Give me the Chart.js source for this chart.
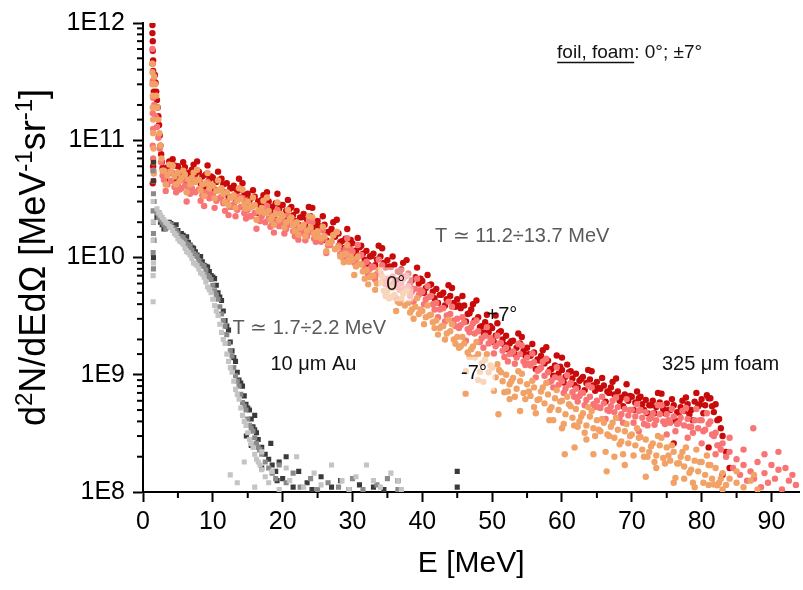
<!DOCTYPE html>
<html>
<head>
<meta charset="utf-8">
<script src="https://cdn.jsdelivr.net/npm/chart.js@4/dist/chart.umd.min.js"></script>
<style>
html,body{margin:0;padding:0;background:#fff;}
canvas{display:block;}
</style>
</head>
<body>
<canvas id="c" width="803" height="590"></canvas>
<script>
// ---- DATA (E [MeV], d2N/dEdΩ [MeV^-1 sr^-1]) ----
const foamPlus7 = [
[1.35,9.6e11],[1.35,8.2e11],[1.4,7.0e11],[1.4,5.8e11],[1.45,4.8e11],[1.45,3.9e11],[1.5,3.2e11],[1.55,2.6e11],[1.4,4.3e10],[1.45,6.0e10],
[1.7,3.6e11],[1.8,3.1e11],[1.9,2.6e11],[2.0,2.2e11],[2.1,1.9e11],[2.2,1.6e11],[2.3,1.35e11],[2.4,1.1e11],[2.5,9.0e10],[2.6,7.6e10],[2.7,6.5e10],[2.8,5.8e10],
[3.0,5.4e10],[3.5,5.9e10],[4.0,5.3e10],[4.5,6.1e10],[5.0,6.0e10],[5.5,5.5e10],[6.0,5.9e10],[6.5,5.3e10],[7.0,5.6e10],[7.5,5.1e10],
[8.0,5.4e10],[8.5,4.9e10],[9.0,5.1e10],[9.5,4.6e10],[10.0,4.8e10],[10.5,4.4e10],[11.0,4.6e10],[11.5,4.2e10],[12.0,4.3e10],[12.5,3.9e10],
[13.0,4.1e10],[13.5,3.7e10],[14.0,3.8e10],[14.5,3.4e10],[15.0,3.5e10],[15.5,3.2e10],[16.0,3.3e10],[16.5,3.0e10],[17.0,3.1e10],[17.5,2.8e10],
[18.0,3.0e10],[18.5,2.7e10],[19.0,2.9e10],[19.5,2.6e10],[20.0,2.8e10],[20.5,2.5e10],[21.0,2.6e10],[21.5,2.3e10],[22.0,2.5e10],[22.5,2.2e10],
[23.0,2.35e10],[23.5,2.1e10],[24.0,2.25e10],[24.5,1.95e10],[25.0,2.05e10],[25.5,1.8e10],[26.0,1.9e10],[26.5,1.65e10],[27.0,1.75e10],[27.5,1.5e10],
[28.0,1.6e10],[28.5,1.38e10],[29.0,1.45e10],[29.5,1.25e10],[30.0,1.32e10],[30.5,1.15e10],[31.0,1.22e10],[31.5,1.08e10],[32.0,1.14e10],[32.5,1.02e10],
[33.0,1.08e10],[33.5,9.6e9],[34.0,1.02e10],[34.5,9.0e9],[35.0,9.5e9],[35.5,8.3e9],[36.0,8.7e9],[36.5,7.6e9],[37.0,7.9e9],[37.5,6.9e9],
[38.0,7.3e9],[38.5,6.4e9],[39.0,6.8e9],[39.5,6.0e9],[40.0,6.3e9],[40.5,5.5e9],[41.0,5.8e9],[41.5,5.1e9],[42.0,5.4e9],[42.5,4.8e9],
[43.0,5.0e9],[43.5,4.4e9],[44.0,4.7e9],[44.5,4.1e9],[45.0,4.4e9],[45.5,3.7e9],[46.0,3.9e9],[46.5,3.3e9],[47.0,3.6e9],[47.5,2.9e9],
[48.0,3.1e9],[48.5,2.6e9],[49.0,2.8e9],[49.5,2.3e9],[50.0,2.5e9],[50.5,2.15e9],[51.0,2.3e9],[51.5,2.0e9],[52.0,2.15e9],[52.5,1.85e9],
[53.0,1.95e9],[53.5,1.7e9],[54.0,1.85e9],[54.5,1.6e9],[55.0,1.7e9],[55.5,1.45e9],[56.0,1.55e9],[56.5,1.35e9],[57.0,1.45e9],[57.5,1.25e9],
[58.0,1.32e9],[58.5,1.12e9],[59.0,1.2e9],[59.5,1.02e9],[60.0,1.1e9],[60.5,9.6e8],[61.0,1.05e9],[61.5,9.3e8],[62.0,1.02e9],[62.5,8.9e8],
[63.0,9.6e8],[63.5,8.5e8],[64.0,9.1e8],[64.5,8.1e8],[65.0,8.7e8],[65.5,7.6e8],[66.0,8.1e8],[66.5,7.2e8],[67.0,7.8e8],[67.5,6.8e8],
[68.0,7.2e8],[68.5,6.4e8],[69.0,6.8e8],[69.5,6.0e8],[70.0,6.5e8],[70.5,5.8e8],[71.0,6.3e8],[71.5,5.6e8],[72.0,6.1e8],[72.5,5.5e8],
[73.0,6.0e8],[73.5,5.3e8],[74.0,5.8e8],[74.5,5.1e8],[75.0,5.7e8],[75.5,5.0e8],[76.0,5.5e8],[76.5,4.8e8],[77.0,5.3e8],[77.5,4.9e8],
[78.0,5.6e8],[78.5,5.0e8],[79.0,5.9e8],[79.5,5.4e8],[80.0,6.2e8],[80.5,5.5e8],[81.0,6.3e8],[81.5,5.4e8],[82.0,5.6e8],[82.5,4.2e8],
[83.0,3.0e8],[83.5,2.2e8],[84.0,1.6e8],[81.0,2.4e8],[76.0,2.6e8],[83.0,1.4e8],[50.5,3.2e9],[60.0,1.4e9],
[3.25,4.5e10],[4.25,6.9e10],[5.25,5.3e10],[6.25,4.2e10],[7.25,6.2e10],[8.25,4.3e10],[9.25,6.1e10],[10.25,3.8e10],[11.25,4.7e10],[12.25,3.3e10],
[13.25,3.2e10],[14.25,4.3e10],[15.25,3.1e10],[16.25,2.4e10],[17.25,3.4e10],[18.25,2.45e10],[19.25,3.5e10],[20.25,2.15e10],[21.25,2.7e10],[22.25,1.9e10],
[23.25,1.85e10],[24.25,2.65e10],[25.25,1.85e10],[26.25,1.4e10],[27.25,2.0e10],[28.25,1.35e10],[29.25,1.75e10],[30.25,1.03e10],[31.25,1.26e10],[32.25,8.7e9],
[33.25,8.6e9],[34.25,1.2e10],[35.25,8.4e9],[36.25,6.4e9],[37.25,9.0e9],[38.25,6.0e9],[39.25,8.2e9],[40.25,5.0e9],[41.25,5.9e9],[42.25,4.1e9],
[43.25,3.9e9],[44.25,5.5e9],[45.25,3.9e9],[46.25,2.85e9],[47.25,4.0e9],[48.25,2.55e9],[49.25,3.25e9],[50.25,1.9e9],[51.25,2.35e9],[52.25,1.65e9],
[53.25,1.5e9],[54.25,2.1e9],[55.25,1.5e9],[56.25,1.12e9],[57.25,1.62e9],[58.25,1.1e9],[59.25,1.46e9],[60.25,8.6e8],[61.25,1.07e9],[62.25,7.8e8],
[63.25,7.4e8],[64.25,1.07e9],[65.25,7.7e8],[66.25,5.9e8],[67.25,8.7e8],[68.25,6.0e8],[69.25,8.3e8],[70.25,5.0e8],[71.25,6.5e8],[72.25,4.7e8],
[73.25,4.7e8],[74.25,6.9e8],[75.25,5.0e8],[76.25,4.05e8],[77.25,6.0e8],[78.25,4.6e8],[79.25,7.0e8],[80.25,4.7e8],[81.25,6.3e8],[82.25,4.1e8],
[3.75,6.6e10],[4.75,4.7e10],[5.75,6.5e10],[6.75,4.9e10],[7.75,6.6e10],[8.75,3.9e10],[9.75,4.9e10],[10.75,5.4e10],[11.75,3.6e10],[12.75,3.9e10],
[13.75,4.7e10],[14.75,2.95e10],[15.75,3.75e10],[16.75,2.8e10],[17.75,3.6e10],[18.75,2.2e10],[19.75,2.8e10],[20.75,3.1e10],[21.75,2.05e10],[22.75,2.2e10],
[23.75,2.7e10],[24.75,1.8e10],[25.75,2.25e10],[26.75,1.63e10],[27.75,2.1e10],[28.75,1.2e10],[29.75,1.41e10],[30.75,1.47e10],[31.75,9.6e9],[32.75,1.03e10],
[33.75,1.26e10],[34.75,8.2e9],[35.75,1.02e10],[36.75,7.5e9],[37.75,9.5e9],[38.75,5.4e9],[39.75,6.6e9],[40.75,7.1e9],[41.75,4.5e9],[42.75,4.8e9],
[43.75,5.8e9],[44.75,3.8e9],[45.75,4.7e9],[46.75,3.35e9],[47.75,4.3e9],[48.75,2.3e9],[49.75,2.6e9],[50.75,2.75e9],[51.75,1.8e9],[52.75,1.93e9],
[53.75,2.25e9],[54.75,1.46e9],[55.75,1.83e9],[56.75,1.32e9],[57.75,1.72e9],[58.75,9.8e8],[59.75,1.17e9],[60.75,1.22e9],[61.75,8.2e8],[62.75,9.2e8],
[63.75,1.1e9],[64.75,7.3e8],[65.75,9.4e8],[66.75,7.0e8],[67.75,9.3e8],[68.75,5.4e8],[69.75,6.6e8],[70.75,7.2e8],[71.75,5.0e8],[72.75,5.5e8],
[73.75,7.0e8],[74.75,4.7e8],[75.75,6.2e8],[76.75,4.75e8],[77.75,6.4e8],[78.75,4.1e8],[79.75,5.6e8],[80.75,6.7e8],[81.75,4.8e8],[82.75,3.5e8]
];
const foamZero = [
[1.35,6.0e11],[1.4,4.5e11],[1.4,3.2e11],[1.45,2.3e11],[1.4,1.7e11],[1.45,1.25e11],[1.4,9.0e10],[1.45,7.0e10],[1.5,5.5e10],[1.5,4.5e10],
[1.6,2.0e11],[1.8,1.6e11],[2.0,1.3e11],[2.2,1.05e11],[2.4,8.5e10],[2.6,6.5e10],[2.8,5.0e10],
[3.0,4.6e10],[3.5,4.2e10],[4.0,4.5e10],[4.5,4.0e10],[5.0,4.3e10],[5.5,3.9e10],[6.0,4.1e10],[6.5,3.7e10],[7.0,3.9e10],[7.5,3.6e10],
[8.0,3.8e10],[8.5,3.4e10],[9.0,3.6e10],[9.5,3.2e10],[10.0,3.4e10],[10.5,3.05e10],[11.0,3.2e10],[11.5,2.9e10],[12.0,3.0e10],[12.5,2.7e10],
[13.0,2.85e10],[13.5,2.55e10],[14.0,2.7e10],[14.5,2.4e10],[15.0,2.55e10],[15.5,2.25e10],[16.0,2.4e10],[16.5,2.1e10],[17.0,2.25e10],[17.5,2.0e10],
[18.0,2.15e10],[18.5,1.9e10],[19.0,2.05e10],[19.5,1.85e10],[20.0,2.0e10],[20.5,1.75e10],[21.0,1.9e10],[21.5,1.68e10],[22.0,1.8e10],[22.5,1.6e10],
[23.0,1.72e10],[23.5,1.52e10],[24.0,1.65e10],[24.5,1.45e10],[25.0,1.55e10],[25.5,1.36e10],[26.0,1.45e10],[26.5,1.27e10],[27.0,1.36e10],[27.5,1.18e10],
[28.0,1.26e10],[28.5,1.1e10],[29.0,1.18e10],[29.5,1.04e10],[30.0,1.12e10],[30.5,9.7e9],[31.0,1.03e10],[31.5,8.8e9],[32.0,9.2e9],[32.5,8.0e9],
[33.0,8.3e9],[33.5,7.2e9],[34.0,7.4e9],[34.5,6.5e9],[35.0,6.6e9],[35.5,5.9e9],[36.0,6.2e9],[36.5,5.6e9],[37.0,6.0e9],[37.5,5.4e9],
[38.0,5.7e9],[38.5,5.1e9],[39.0,5.4e9],[39.5,4.8e9],[40.0,5.1e9],[40.5,4.4e9],[41.0,4.6e9],[41.5,4.0e9],[42.0,4.1e9],[42.5,3.6e9],
[43.0,3.7e9],[43.5,3.2e9],[44.0,3.3e9],[44.5,2.9e9],[45.0,3.0e9],[45.5,2.65e9],[46.0,2.8e9],[46.5,2.45e9],[47.0,2.55e9],[47.5,2.25e9],
[48.0,2.35e9],[48.5,2.05e9],[49.0,2.15e9],[49.5,1.85e9],[50.0,1.95e9],[50.5,1.75e9],[51.0,1.85e9],[51.5,1.6e9],[52.0,1.7e9],[52.5,1.5e9],
[53.0,1.58e9],[53.5,1.4e9],[54.0,1.5e9],[54.5,1.3e9],[55.0,1.4e9],[55.5,1.2e9],[56.0,1.28e9],[56.5,1.08e9],[57.0,1.15e9],[57.5,9.8e8],
[58.0,1.05e9],[58.5,8.9e8],[59.0,9.5e8],[59.5,8.2e8],[60.0,8.8e8],[60.5,7.6e8],[61.0,8.2e8],[61.5,7.1e8],[62.0,7.6e8],[62.5,6.6e8],
[63.0,7.0e8],[63.5,6.1e8],[64.0,6.5e8],[64.5,5.6e8],[65.0,6.0e8],[65.5,5.2e8],[66.0,5.7e8],[66.5,5.0e8],[67.0,5.4e8],[67.5,4.8e8],
[68.0,5.3e8],[68.5,4.6e8],[69.0,5.1e8],[69.5,4.5e8],[70.0,5.0e8],[70.5,4.4e8],[71.0,4.9e8],[71.5,4.3e8],[72.0,4.8e8],[72.5,4.2e8],
[73.0,4.7e8],[73.5,4.1e8],[74.0,4.6e8],[74.5,4.0e8],[75.0,4.6e8],[75.5,3.9e8],[76.0,4.4e8],[76.5,3.8e8],[77.0,4.3e8],[77.5,3.7e8],
[78.0,4.2e8],[78.5,3.6e8],[79.0,4.1e8],[79.5,3.5e8],[80.0,4.1e8],[80.5,3.4e8],[81.0,3.8e8],[81.5,3.1e8],[82.0,3.2e8],[82.5,2.5e8],
[83.0,2.6e8],[83.5,2.0e8],[84.0,2.2e8],[84.5,1.6e8],[85.0,1.9e8],[85.5,1.4e8],[86.0,1.7e8],[86.5,1.25e8],[87.0,1.5e8],[87.4,3.5e8],
[87.5,1.3e8],[88.0,1.8e8],[88.5,1.1e8],[89.0,1.45e8],[89.5,1.2e8],[90.0,1.7e8],[90.5,1.3e8],[91.0,1.55e8],[91.5,1.05e8],[92.0,1.6e8],
[92.5,1.25e8],[93.0,1.4e8],[93.5,1.15e8],[91.0,2.2e8],[89.0,2.1e8],[86.0,2.3e8],[84.0,2.9e8],[82.0,2.1e8],[80.0,2.6e8],[78.0,2.9e8],
[75.0,3.1e8],[71.0,3.3e8],
[3.25,3.7e10],[4.25,5.3e10],[5.25,3.8e10],[6.25,3.0e10],[7.25,4.4e10],[8.25,3.05e10],[9.25,4.4e10],[10.25,2.65e10],[11.25,3.3e10],[12.25,2.3e10],
[13.25,2.25e10],[14.25,3.2e10],[15.25,2.25e10],[16.25,1.76e10],[17.25,2.6e10],[18.25,1.83e10],[19.25,2.55e10],[20.25,1.6e10],[21.25,2.0e10],[22.25,1.42e10],
[23.25,1.4e10],[24.25,2.0e10],[25.25,1.4e10],[26.25,1.09e10],[27.25,1.55e10],[28.25,1.07e10],[29.25,1.46e10],[30.25,9.0e9],[31.25,1.05e10],[32.25,7.1e9],
[33.25,6.5e9],[34.25,8.6e9],[35.25,5.7e9],[36.25,4.5e9],[37.25,6.6e9],[38.25,4.7e9],[39.25,6.6e9],[40.25,4.0e9],[41.25,4.7e9],[42.25,3.1e9],
[43.25,2.85e9],[44.25,3.8e9],[45.25,2.5e9],[46.25,1.95e9],[47.25,2.75e9],[48.25,1.9e9],[49.25,2.55e9],[50.25,1.52e9],[51.25,1.87e9],[52.25,1.3e9],
[53.25,1.24e9],[54.25,1.78e9],[55.25,1.24e9],[56.25,9.5e8],[57.25,1.29e9],[58.25,8.7e8],[59.25,1.16e9],[60.25,7.0e8],[61.25,8.5e8],[62.25,5.9e8],
[63.25,5.5e8],[64.25,7.8e8],[65.25,5.3e8],[66.25,4.2e8],[67.25,6.0e8],[68.25,4.3e8],[69.25,6.2e8],[70.25,3.9e8],[71.25,5.0e8],[72.25,3.7e8],
[73.25,3.75e8],[74.25,5.5e8],[75.25,4.1e8],[76.25,3.3e8],[77.25,4.9e8],[78.25,3.6e8],[79.25,5.1e8],[80.25,3.3e8],[81.25,4.0e8],[82.25,2.5e8],
[3.75,5.4e10],[4.75,3.6e10],[5.75,4.6e10],[6.75,3.5e10],[7.75,4.6e10],[8.75,2.75e10],[9.75,3.5e10],[10.75,3.75e10],[11.75,2.5e10],[12.75,2.7e10],
[13.75,3.3e10],[14.75,2.15e10],[15.75,2.75e10],[16.75,2.05e10],[17.75,2.75e10],[18.75,1.63e10],[19.75,2.05e10],[20.75,2.3e10],[21.75,1.52e10],[22.75,1.67e10],
[23.75,2.05e10],[24.75,1.36e10],[25.75,1.7e10],[26.75,1.28e10],[27.75,1.65e10],[28.75,9.6e9],[29.75,1.17e10],[30.75,1.28e10],[31.75,8.0e9],[32.75,8.4e9],
[33.75,9.6e9],[34.75,5.9e9],[35.75,6.9e9],[36.75,5.3e9],[37.75,7.0e9],[38.75,4.2e9],[39.75,5.25e9],[40.75,5.7e9],[41.75,3.6e9],[42.75,3.7e9],
[43.75,4.2e9],[44.75,2.6e9],[45.75,3.1e9],[46.75,2.3e9],[47.75,2.9e9],[48.75,1.7e9],[49.75,2.05e9],[50.75,2.15e9],[51.75,1.42e9],[52.75,1.53e9],
[53.75,1.83e9],[54.75,1.21e9],[55.75,1.52e9],[56.75,1.11e9],[57.75,1.37e9],[58.75,7.8e8],[59.75,9.3e8],[60.75,9.9e8],[61.75,6.5e8],[62.75,7.0e8],
[63.75,8.1e8],[64.75,5.3e8],[65.75,6.5e8],[66.75,4.9e8],[67.75,6.4e8],[68.75,3.9e8],[69.75,5.0e8],[70.75,5.6e8],[71.75,3.8e8],[72.75,4.3e8],
[73.75,5.5e8],[74.75,3.8e8],[75.75,5.1e8],[76.75,3.9e8],[77.75,5.2e8],[78.75,3.2e8],[79.75,4.1e8],[80.75,4.7e8],[81.75,3.0e8],[82.75,2.3e8]
];
const foamMinus7 = [
[1.3,4.5e11],[1.35,3.8e11],[1.35,3.0e11],[1.4,2.4e11],[1.4,1.9e11],[1.45,1.5e11],[1.45,1.15e11],[1.5,8.5e10],[1.5,6.5e10],[1.55,5.2e10],
[1.6,3.5e11],[1.75,3.0e11],[1.9,2.4e11],[2.05,1.9e11],[2.2,1.5e11],[2.35,1.15e11],[2.5,9.0e10],[2.65,7.0e10],[2.8,5.5e10],
[3.0,5.5e10],[3.5,5.0e10],[4.0,5.4e10],[4.5,4.9e10],[5.0,5.3e10],[5.5,4.8e10],[6.0,5.1e10],[6.5,4.6e10],[7.0,4.8e10],[7.5,4.4e10],
[8.0,4.6e10],[8.5,4.2e10],[9.0,4.3e10],[9.5,3.9e10],[10.0,4.1e10],[10.5,3.7e10],[11.0,3.8e10],[11.5,3.5e10],[12.0,3.6e10],[12.5,3.25e10],
[13.0,3.4e10],[13.5,3.05e10],[14.0,3.15e10],[14.5,2.85e10],[15.0,3.0e10],[15.5,2.7e10],[16.0,2.8e10],[16.5,2.5e10],[17.0,2.65e10],[17.5,2.4e10],
[18.0,2.5e10],[18.5,2.25e10],[19.0,2.35e10],[19.5,2.1e10],[20.0,2.25e10],[20.5,2.0e10],[21.0,2.1e10],[21.5,1.9e10],[22.0,2.0e10],[22.5,1.8e10],
[23.0,1.9e10],[23.5,1.7e10],[24.0,1.8e10],[24.5,1.6e10],[25.0,1.68e10],[25.5,1.45e10],[26.0,1.52e10],[26.5,1.32e10],[27.0,1.38e10],[27.5,1.18e10],
[28.0,1.22e10],[28.5,1.05e10],[29.0,1.08e10],[29.5,9.2e9],[30.0,9.5e9],[30.5,8.4e9],[31.0,8.8e9],[31.5,7.6e9],[32.0,7.8e9],[32.5,6.8e9],
[33.0,7.0e9],[33.5,6.0e9],[34.0,6.1e9],[34.5,5.2e9],[35.0,5.2e9],[35.5,4.6e9],[36.0,4.8e9],[36.5,4.2e9],[37.0,4.4e9],[37.5,3.9e9],
[38.0,4.1e9],[38.5,3.6e9],[39.0,3.8e9],[39.5,3.3e9],[40.0,3.5e9],[40.5,3.1e9],[41.0,3.2e9],[41.5,2.8e9],[42.0,2.9e9],[42.5,2.5e9],
[43.0,2.6e9],[43.5,2.25e9],[44.0,2.35e9],[44.5,2.0e9],[45.0,2.1e9],[45.5,1.75e9],[46.0,1.85e9],[46.5,1.55e9],[47.0,1.65e9],[47.5,1.4e9],
[48.0,1.5e9],[48.5,1.25e9],[49.0,1.35e9],[49.5,1.05e9],[50.0,1.15e9],[50.5,9.5e8],[51.0,1.1e9],[51.5,8.8e8],[52.0,1.0e9],[52.5,8.3e8],
[53.0,9.4e8],[53.5,7.6e8],[54.0,8.8e8],[54.5,7.0e8],[55.0,8.3e8],[55.5,6.6e8],[56.0,7.8e8],[56.5,6.1e8],[57.0,7.2e8],[57.5,5.7e8],
[58.0,6.8e8],[58.5,5.3e8],[59.0,6.3e8],[59.5,5.0e8],[60.0,6.0e8],[60.5,4.6e8],[61.0,5.6e8],[61.5,4.3e8],[62.0,5.1e8],[62.5,4.0e8],
[63.0,4.7e8],[63.5,3.7e8],[64.0,4.4e8],[64.5,3.5e8],[65.0,4.1e8],[65.5,3.3e8],[66.0,3.9e8],[66.5,3.1e8],[67.0,3.6e8],[67.5,2.9e8],
[68.0,3.4e8],[68.5,2.7e8],[69.0,3.3e8],[69.5,2.6e8],[70.0,3.1e8],[70.5,2.5e8],[71.0,2.9e8],[71.5,2.3e8],[72.0,2.8e8],[72.5,2.2e8],
[73.0,2.6e8],[73.5,2.05e8],[74.0,2.5e8],[74.5,1.95e8],[75.0,2.4e8],[75.5,1.85e8],[76.0,2.2e8],[76.5,1.75e8],[77.0,2.0e8],[77.5,1.65e8],
[78.0,1.95e8],[78.5,1.55e8],[79.0,1.85e8],[79.5,1.5e8],[80.0,1.8e8],[80.5,1.4e8],[81.0,1.7e8],[81.5,1.3e8],[82.0,1.6e8],[82.5,1.2e8],
[83.0,1.45e8],[83.5,1.15e8],[84.0,1.3e8],[85.0,1.2e8],[86.0,1.1e8],[87.0,1.25e8],[88.0,1.05e8],
[46.2,6.9e8],[48.0,9.0e8],[50.9,4.6e8],[52.5,6.2e8],[54.0,4.9e8],[56.0,5.3e8],[58.2,4.1e8],[60.0,3.5e8],[60.4,2.1e8],[61.8,2.4e8],
[63.5,2.8e8],[64.5,2.1e8],[66.4,1.5e8],[67.5,2.0e8],[69.0,1.7e8],[72.0,1.35e8],[73.5,1.6e8],[76.0,1.2e8],[77.5,1.3e8],[79.0,1.1e8],
[81.0,1.15e8],[83.0,1.05e8],[85.0,1.5e8],[87.5,1.4e8],
[3.25,4.2e10],[4.25,6.1e10],[5.25,4.5e10],[6.25,3.6e10],[7.25,5.3e10],[8.25,3.75e10],[9.25,5.25e10],[10.25,3.2e10],[11.25,3.9e10],[12.25,2.8e10],
[13.25,2.65e10],[14.25,3.8e10],[15.25,2.65e10],[16.25,2.1e10],[17.25,3.05e10],[18.25,2.1e10],[19.25,2.95e10],[20.25,1.8e10],[21.25,2.2e10],[22.25,1.56e10],
[23.25,1.52e10],[24.25,2.2e10],[25.25,1.5e10],[26.25,1.13e10],[27.25,1.55e10],[28.25,1.02e10],[29.25,1.28e10],[30.25,7.1e9],[31.25,8.7e9],[32.25,5.9e9],
[33.25,5.3e9],[34.25,6.9e9],[35.25,4.5e9],[36.25,3.5e9],[37.25,4.9e9],[38.25,3.4e9],[39.25,4.5e9],[40.25,2.7e9],[41.25,3.25e9],[42.25,2.2e9],
[43.25,2.0e9],[44.25,2.7e9],[45.25,1.7e9],[46.25,1.07e9],[47.25,1.74e9],[48.25,1.06e9],[49.25,1.5e9],[50.25,7.3e8],[51.25,1.05e9],[52.25,7.2e8],
[53.25,6.5e8],[54.25,1.02e9],[55.25,7.2e8],[56.25,4.7e8],[57.25,7.8e8],[58.25,5.0e8],[59.25,7.4e8],[60.25,3.8e8],[61.25,5.4e8],[62.25,3.6e8],
[63.25,3.2e8],[64.25,4.9e8],[65.25,3.4e8],[66.25,2.2e8],[67.25,3.9e8],[68.25,2.55e8],[69.25,3.8e8],[70.25,2.05e8],[71.25,2.95e8],[72.25,2.0e8],
[73.25,1.8e8],[74.25,2.9e8],[75.25,2.05e8],[76.25,1.32e8],[77.25,2.2e8],[78.25,1.46e8],[79.25,2.3e8],[80.25,1.2e8],[81.25,1.7e8],[82.25,1.14e8],
[3.75,6.2e10],[4.75,4.2e10],[5.75,5.5e10],[6.75,4.2e10],[7.75,5.6e10],[8.75,3.35e10],[9.75,4.2e10],[10.75,4.55e10],[11.75,2.95e10],[12.75,3.25e10],
[13.75,3.9e10],[14.75,2.6e10],[15.75,3.25e10],[16.75,2.45e10],[17.75,3.25e10],[18.75,1.9e10],[19.75,2.35e10],[20.75,2.55e10],[21.75,1.68e10],[22.75,1.84e10],
[23.75,2.25e10],[24.75,1.5e10],[25.75,1.83e10],[26.75,1.33e10],[27.75,1.65e10],[28.75,9.1e9],[29.75,1.02e10],[30.75,1.01e10],[31.75,6.6e9],[32.75,7.0e9],
[33.75,7.8e9],[34.75,4.7e9],[35.75,5.5e9],[36.75,4.1e9],[37.75,5.2e9],[38.75,3.0e9],[39.75,3.6e9],[40.75,3.9e9],[41.75,2.5e9],[42.75,2.6e9],
[43.75,2.95e9],[44.75,1.84e9],[45.75,2.1e9],[46.75,1.42e9],[47.75,1.9e9],[48.75,8.7e8],[49.75,1.2e9],[50.75,1.23e9],[51.75,7.1e8],[52.75,8.8e8],
[53.75,1.07e9],[54.75,6.2e8],[55.75,8.9e8],[56.75,6.2e8],[57.75,8.5e8],[58.75,4.1e8],[59.75,5.9e8],[60.75,6.5e8],[61.75,3.7e8],[62.75,4.4e8],
[63.75,5.3e8],[64.75,3.0e8],[65.75,4.2e8],[66.75,3.0e8],[67.75,4.3e8],[68.75,2.1e8],[69.75,3.0e8],[70.75,3.5e8],[71.75,2.0e8],[72.75,2.45e8],
[73.75,3.0e8],[74.75,1.75e8],[75.75,2.5e8],[76.75,1.76e8],[77.75,2.4e8],[78.75,1.2e8],[79.75,1.8e8],[80.75,2.05e8],[81.75,1.16e8],[82.75,1.3e8]
];
const foilDark = [
[1.5,6.5e10],[1.5,4.5e10],[1.55,3.0e10],[1.5,2.0e10],[1.55,1.4e10],[1.5,1.0e10],
[2.0,2.2e10],[2.5,2.0e10],[3.0,1.75e10],[3.5,1.85e10],[4.0,1.95e10],[4.5,1.8e10],[5.0,1.7e10],[5.5,1.6e10],[6.0,1.45e10],[6.5,1.35e10],
[7.0,1.22e10],[7.5,1.12e10],[8.0,1.0e10],[8.5,9.2e9],[9.0,8.4e9],[9.5,7.6e9],[10.0,6.8e9],[10.5,5.8e9],[11.0,4.6e9],[11.5,3.5e9],
[12.0,2.6e9],[12.5,1.9e9],[13.0,1.4e9],[13.5,1.05e9],[14.0,8.5e8],[14.5,6.6e8],[15.0,5.2e8],[15.5,4.2e8],[16.0,3.4e8],[16.5,2.8e8],
[17.0,2.4e8],[17.5,2.1e8],[18.0,1.9e8],[18.5,1.7e8],[19.0,1.5e8],[19.5,1.8e8],[20.0,1.3e8],
[15.5,2.5e8],[17.0,1.6e8],[18.3,2.6e8],[19.2,1.25e8],[20.5,2.0e8],[21.5,1.1e8],[22.3,1.5e8],[23.5,1.2e8],[24.2,1.05e8],[25.5,1.35e8],
[27.0,1.1e8],[28.3,1.25e8],[29.5,1.05e8],[31.0,1.15e8],[33.0,1.1e8],[34.5,1.05e8],[36.5,1.25e8],[45.0,1.5e8],[45.0,1.1e8],[14.8,3.0e8],[16.0,4.5e8],
[2.25,2.4e10],[2.75,1.9e10],[3.25,1.8e10],[3.75,2.0e10],[4.25,1.85e10],[4.75,1.9e10],[5.25,1.6e10],[5.75,1.55e10],[6.25,1.5e10],[6.75,1.28e10],
[7.25,1.2e10],[7.75,1.05e10],[8.25,1.02e10],[8.75,8.6e9],[9.25,8.3e9],[9.75,7.0e9],[10.25,6.6e9],[10.75,5.0e9],[11.25,4.3e9],[11.75,2.9e9],
[12.25,2.4e9],[12.75,1.6e9],[13.25,1.3e9],[13.75,9.0e8],[14.25,8.0e8],[14.75,5.6e8],[15.25,5.0e8],[15.75,3.6e8],[16.25,3.2e8],[16.75,2.3e8]
];
const foilMid = [
[1.45,5.5e10],[1.5,3.5e10],[1.45,2.5e10],[1.5,1.6e10],[1.45,1.1e10],[1.5,8.0e9],
[2.0,2.4e10],[2.5,2.1e10],[3.0,1.9e10],[3.5,1.8e10],[4.0,1.9e10],[4.5,1.75e10],[5.0,1.6e10],[5.5,1.5e10],[6.0,1.4e10],[6.5,1.28e10],
[7.0,1.15e10],[7.5,1.05e10],[8.0,9.4e9],[8.5,8.6e9],[9.0,7.8e9],[9.5,6.8e9],[10.0,5.8e9],[10.5,4.8e9],[11.0,3.8e9],[11.5,2.9e9],
[12.0,2.2e9],[12.5,1.6e9],[13.0,1.15e9],[13.5,8.8e8],[14.0,6.8e8],[14.5,5.4e8],[15.0,4.2e8],[15.5,3.5e8],[16.0,2.9e8],[16.5,2.4e8],
[17.0,2.1e8],[17.5,1.8e8],[18.0,1.6e8],[18.5,1.45e8],[19.0,1.3e8],
[19.5,1.7e8],[20.5,1.2e8],[21.5,1.45e8],[22.5,1.1e8],[24.0,1.3e8],[25.0,1.05e8],[26.5,1.2e8],[28.0,1.1e8],[30.0,1.3e8],[31.5,1.05e8],
[33.5,1.15e8],[35.0,1.3e8],[36.5,1.05e8],
[2.25,2.2e10],[2.75,2.0e10],[3.25,1.75e10],[3.75,1.95e10],[4.25,1.8e10],[4.75,1.68e10],[5.25,1.5e10],[5.75,1.48e10],[6.25,1.3e10],[6.75,1.25e10],
[7.25,1.08e10],[7.75,1.02e10],[8.25,8.8e9],[8.75,8.4e9],[9.25,7.0e9],[9.75,6.5e9],[10.25,5.2e9],[10.75,4.4e9],[11.25,3.3e9],[11.75,2.6e9],
[12.25,1.85e9],[12.75,1.45e9],[13.25,9.8e8],[13.75,8.0e8],[14.25,5.8e8],[14.75,5.0e8],[15.25,3.7e8],[15.75,3.3e8],[16.25,2.6e8],[16.75,2.3e8]
];
const foilLight = [
[1.45,3.0e10],[1.5,2.0e10],[1.45,1.4e10],[1.5,9.0e9],[1.45,7.0e9],[1.45,4.2e9],
[2.0,2.6e10],[2.5,2.3e10],[3.0,2.1e10],[3.5,1.95e10],[4.0,1.8e10],[4.5,1.6e10],[5.0,1.45e10],[5.5,1.35e10],[6.0,1.2e10],[6.5,1.1e10],
[7.0,9.8e9],[7.5,8.8e9],[8.0,8.0e9],[8.5,7.2e9],[9.0,6.2e9],[9.5,5.3e9],[10.0,4.4e9],[10.5,3.5e9],[11.0,2.7e9],[11.5,2.0e9],
[12.0,1.5e9],[12.5,1.15e9],[13.0,8.8e8],[13.5,6.8e8],[14.0,5.2e8],[14.5,4.0e8],[15.0,3.2e8],[15.5,2.6e8],[16.0,2.1e8],[16.5,1.8e8],
[17.0,1.55e8],[17.5,1.35e8],[18.0,1.2e8],
[12.5,1.4e8],[13.5,1.2e8],[14.5,1.8e8],[16.0,1.1e8],[17.0,2.2e8],[18.5,1.5e8],[19.5,1.05e8],[20.5,1.6e8],[21.0,1.25e8],[22.0,2.0e8],
[23.0,1.1e8],[24.5,1.45e8],[25.5,1.15e8],[27.0,1.7e8],[28.5,1.25e8],[29.5,1.05e8],[30.5,1.35e8],[32.0,1.7e8],[33.0,1.25e8],[34.0,1.1e8],
[35.5,1.45e8],[36.5,1.25e8],[37.0,1.05e8],
[2.25,2.4e10],[2.75,2.2e10],[3.25,2.0e10],[3.75,1.85e10],[4.25,1.7e10],[4.75,1.55e10],[5.25,1.38e10],[5.75,1.3e10],[6.25,1.12e10],[6.75,1.05e10],
[7.25,9.0e9],[7.75,8.5e9],[8.25,7.4e9],[8.75,6.8e9],[9.25,5.6e9],[9.75,5.0e9],[10.25,3.9e9],[10.75,3.2e9],[11.25,2.3e9],[11.75,1.85e9],
[12.25,1.3e9],[12.75,1.05e9],[13.25,7.5e8],[13.75,6.2e8],[14.25,4.5e8],[14.75,3.7e8],[15.25,2.8e8],[15.75,2.4e8],[16.25,1.9e8],[16.75,1.7e8]
];
const xTickLabels = ['0','10','20','30','40','50','60','70','80','90'];
const yTickLabels = ['1E8','1E9','1E10','1E11','1E12'];

// ---- annotations (text + anchor in data coordinates) ----
const notes = [
  {text:'T \u2243 11.2\u00F713.7 MeV', x:54.3, y:1.5e10, color:'#5a5a5a'},
  {text:'T \u2243 1.7\u00F72.2 MeV', x:23.8, y:2.5e9, color:'#5a5a5a'},
  {text:'10 \u03BCm Au', x:24.4, y:1.22e9, color:'#111'},
  {text:'325 \u03BCm foam', x:82.7, y:1.22e9, color:'#111'},
  {text:'0\u00B0', x:36.2, y:5.9e9, color:'#111', box:true},
  {text:'+7\u00B0', x:51.4, y:3.2e9, color:'#111'},
  {text:'-7\u00B0', x:47.4, y:1.02e9, color:'#111', box:true}
];
// y-axis title pieces: [text, isSuperscript]
const yTitleParts = [['d',0],['2',1],['N/dEd\u03A9 [MeV',0],['-1',1],['sr',0],['-1',1],[']',0]];

const FONT = "'Liberation Sans', Arial, sans-serif";
Chart.defaults.font.family = FONT;
Chart.defaults.color = '#000';

const toPts = a => a.map(p => ({x:p[0], y:p[1]}));
function ds(label, arr, color, style, r){
  return {label, data: toPts(arr), backgroundColor: color, borderColor: color, borderWidth: 0,
          pointStyle: style, pointRadius: r, pointHoverRadius: r, showLine: false};
}

const isPow10 = v => { const e = Math.log10(v); return Math.abs(e - Math.round(e)) < 1e-6; };

const decor = {
  id: 'decor',
  afterDraw(chart){
    const c = chart.ctx, xs = chart.scales.x, ys = chart.scales.y, a = chart.chartArea;
    c.save();
    c.strokeStyle = '#000'; c.lineWidth = 2;
    xs.ticks.forEach(t => {
      if (t.value % 10 !== 0) {
        const px = xs.getPixelForValue(t.value);
        c.beginPath(); c.moveTo(px, a.bottom); c.lineTo(px, a.bottom + 6); c.stroke();
      }
    });
    ys.ticks.forEach(t => {
      if (!isPow10(t.value)) {
        const py = ys.getPixelForValue(t.value);
        c.beginPath(); c.moveTo(a.left, py); c.lineTo(a.left - 6, py); c.stroke();
      }
    });
    // y-axis title with superscripts, rotated
    const MAIN = 36, SUP = 24;
    c.translate(45, (a.top + a.bottom) / 2);
    c.rotate(-Math.PI / 2);
    c.fillStyle = '#000';
    c.textBaseline = 'alphabetic';
    c.textAlign = 'left';
    let total = 0;
    yTitleParts.forEach(p => { c.font = (p[1] ? SUP : MAIN) + 'px ' + FONT; total += c.measureText(p[0]).width; });
    let tx = -total / 2;
    yTitleParts.forEach(p => {
      c.font = (p[1] ? SUP : MAIN) + 'px ' + FONT;
      c.fillText(p[0], tx, p[1] ? -13 : 0);
      tx += c.measureText(p[0]).width;
    });
    c.restore();
  },
  afterDatasetsDraw(chart){
    const c = chart.ctx, xs = chart.scales.x, ys = chart.scales.y;
    c.save();
    c.font = '20px ' + FONT;
    c.textBaseline = 'middle';
    c.textAlign = 'center';
    notes.forEach(n => {
      const px = xs.getPixelForValue(n.x), py = ys.getPixelForValue(n.y);
      if (n.box) {
        const w = c.measureText(n.text).width + 16;
        c.fillStyle = 'rgba(255,255,255,0.55)';
        c.fillRect(px - w/2, py - 17, w, 34);
      }
      c.fillStyle = n.color;
      c.fillText(n.text, px, py);
    });
    const hx = xs.getPixelForValue(59.3), hy = ys.getPixelForValue(5.6e11);
    c.font = '19px ' + FONT;
    c.textAlign = 'left';
    c.fillStyle = '#111';
    const part1 = 'foil, foam', part2 = ': 0\u00B0; \u00B17\u00B0';
    c.fillText(part1, hx, hy);
    const w1 = c.measureText(part1).width;
    c.fillText(part2, hx + w1, hy);
    c.strokeStyle = '#111'; c.lineWidth = 1.3;
    c.beginPath(); c.moveTo(hx, hy + 10); c.lineTo(hx + w1, hy + 10); c.stroke();
    c.restore();
  }
};

new Chart(document.getElementById('c'), {
  type: 'scatter',
  data: { datasets: [
    ds('10 µm Au, light', foilLight, '#c4c4c4', 'rect', 3.6),
    ds('10 µm Au, mid', foilMid, '#8a8a8a', 'rect', 3.6),
    ds('10 µm Au, dark', foilDark, '#3a3a3a', 'rect', 3.6),
    ds('foam -7°', foamMinus7, '#f2a267', 'circle', 3.2),
    ds('foam 0°', foamZero, '#f97474', 'circle', 3.2),
    ds('foam +7°', foamPlus7, '#c80a0a', 'circle', 3.2)
  ]},
  plugins: [decor],
  options: {
    responsive: false, animation: false, devicePixelRatio: 1,
    layout: { padding: { top: 17, right: 3, left: 0, bottom: 0 } },
    plugins: { legend: { display: false }, tooltip: { enabled: false } },
    scales: {
      x: {
        type: 'linear', min: 0, max: 94,
        border: { display: true, color: '#000', width: 2 },
        grid: { drawOnChartArea: false, drawTicks: true, tickLength: 10, tickWidth: 2,
                tickColor: ctx => (ctx.tick && ctx.tick.value % 10 === 0) ? '#000' : 'rgba(0,0,0,0)' },
        ticks: { stepSize: 5, includeBounds: false, autoSkip: false, maxRotation: 0, padding: 5,
                 font: { size: 25 }, color: '#000',
                 callback: v => (v % 10 === 0 ? xTickLabels[v / 10] : '') },
        title: { display: true, text: 'E [MeV]', font: { size: 30 }, color: '#000', padding: { top: 0, bottom: 8 } },
        afterFit: s => { s.height = 98; }
      },
      y: {
        type: 'logarithmic', min: 1e8, max: 1e12,
        border: { display: true, color: '#000', width: 2 },
        grid: { drawOnChartArea: false, drawTicks: true, tickLength: 10, tickWidth: 2,
                tickColor: ctx => (ctx.tick && isPow10(ctx.tick.value)) ? '#000' : 'rgba(0,0,0,0)' },
        ticks: { autoSkip: false, padding: 8, font: { size: 25 }, color: '#000',
                 callback: v => isPow10(v) ? yTickLabels[Math.round(Math.log10(v)) - 8] : '' },
        title: { display: false },
        afterFit: s => { s.width = 143; }
      }
    }
  }
});
</script>
</body>
</html>
